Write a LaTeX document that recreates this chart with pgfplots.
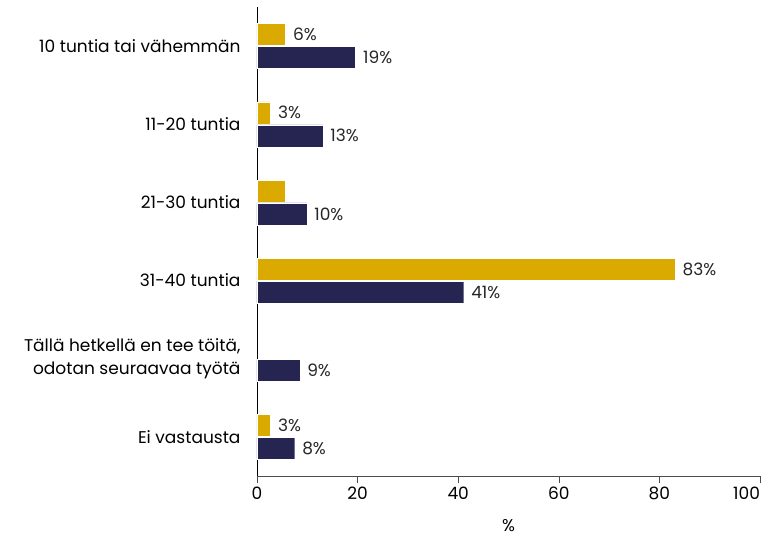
\documentclass[border=0pt]{standalone}
\usepackage{pgfplots}
\pgfplotsset{compat=1.18}
\usepackage{fontspec}
\setmainfont{Poppins}
\definecolor{gold}{RGB}{219,170,0}
\definecolor{navy}{RGB}{38,37,82}
\begin{document}
\begin{tikzpicture}[font=\fontsize{17}{23}\selectfont]
\useasboundingbox (-257pt,-63pt) rectangle (514pt,476pt);
\begin{axis}[
    xbar,
    scale only axis,
    width=503pt, height=469pt,
    xmin=0, xmax=100, ymin=-0.5, ymax=5.5,
    axis x line=bottom, axis y line=left,
    axis line style={-},
    x axis line style={draw=black!70},
    xtick={0,20,40,60,80,100},
    xticklabels={0,20,40,60,80,\makebox[0pt][r]{100}},
    ytick={0,1,2,3,4,5},
    yticklabels={Ei vastausta,{Tällä hetkellä en tee töitä,\\odotan seuraavaa työtä},31-40 tuntia,21-30 tuntia,11-20 tuntia,10 tuntia tai vähemmän},
    yticklabel style={align=right, xshift=-6pt},
    y tick style={draw=none},
    x tick style={draw=black!70, line width=0.6pt},
    tick align=outside,
    major tick length=7pt,
    xlabel={\%},
    xlabel style={yshift=-13pt},
    bar width=22pt,
    nodes near coords,
    point meta=explicit symbolic,
    every node near coord/.append style={anchor=west, xshift=4pt, text=black!85},
  ]
  \addplot[fill=gold, draw=white, line width=0.4pt, bar shift=11.5pt] coordinates {
    (5.7,5) [6\%] (2.7,4) [3\%] (83.1,2) [83\%] (2.7,0) [3\%]};
  \addplot[fill=gold, draw=white, line width=0.4pt, bar shift=11.5pt, nodes near coords=\empty] coordinates {(5.7,3)};
  \addplot[fill=navy, draw=white, line width=0.4pt, bar shift=-11.5pt] coordinates {
    (19.6,5) [19\%] (13.1,4) [13\%] (9.9,3) [10\%] (41.1,2) [41\%] (8.5,1) [9\%] (7.5,0) [8\%]};
\end{axis}
\end{tikzpicture}
\end{document}
